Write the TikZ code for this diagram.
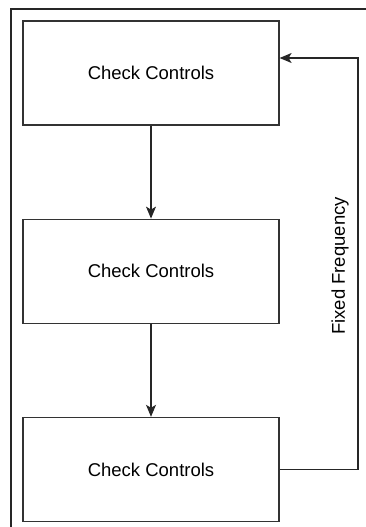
\documentclass[tikz,border=0pt]{standalone}
\usepackage{fontspec}
\setmainfont{Liberation Sans}
\usetikzlibrary{arrows.meta,positioning}
\tikzset{
  ctrlbox/.style={draw=black!80, line width=1.2pt, minimum width=256pt, minimum height=104pt,
    inner sep=0pt, font=\fontsize{18.5}{22}\selectfont},
  flow/.style={draw=black!85, line width=1.2pt}
}
\begin{document}
\begin{tikzpicture}[x=1pt, y=-1pt, >={Stealth[length=12pt,width=10pt,inset=3pt]}, node distance=93pt]
  \useasboundingbox (0,0) rectangle (366,527);
  \draw[flow] (366,9) -- (11,9) -- (11,527);
  \node[ctrlbox] (box1) at (151,73) {Check Controls};
  \node[ctrlbox, below=of box1] (box2) {Check Controls};
  \node[ctrlbox, below=of box2] (box3) {Check Controls};
  \coordinate (turn) at (358,58);
  \draw[flow,->] (box1) -- (box2);
  \draw[flow,->] (box2) -- (box3);
  \draw[flow,->] (box3.east) -- (box3.east -| turn) -- (turn) -- (box1.east |- turn);
  \node[rotate=90, font=\fontsize{18.5}{22}\selectfont] (fflabel) at (340,266) {Fixed Frequency};
\end{tikzpicture}
\end{document}
